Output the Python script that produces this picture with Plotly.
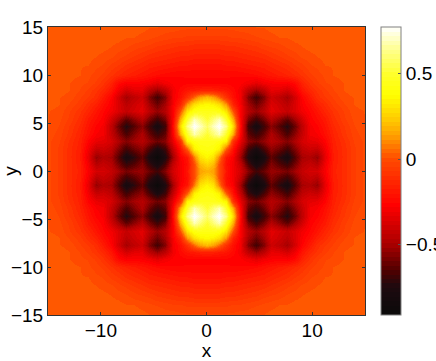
import numpy as np
import plotly.graph_objects as go

# grid coordinates of the upper right quadrant, picture is mirrored in both axes
x_pos = [0, .6, 1.15, 1.8, 2.5, 3.2, 3.95, 4.7, 5.45, 6.15, 6.9, 7.6, 8.35, 9.05, 9.8, 10.5, 11.25, 12, 13, 14, 15]
y_pos = [0, .75, 1.5, 2.3, 3.1, 3.9, 4.7, 5.45, 6.2, 6.95, 7.7, 8.45, 9.2, 10, 11, 12, 13, 14, 15]

# one row per y_pos, one value per x_pos
z_quadrant = [
    [.18, .14, 0, -.2, -.3, -.38, -.56, -.68, -.6, -.52, -.54, -.58, -.5, -.42, -.38, -.38, -.28, -.16, -.11, -.05, -.01],
    [.26, .2, 0, -.22, -.3, -.42, -.66, -.8, -.7, -.56, -.64, -.7, -.58, -.46, -.42, -.46, -.3, -.17, -.11, -.05, -.01],
    [.36, .3, .08, -.2, -.28, -.5, -.76, -.9, -.78, -.62, -.72, -.8, -.64, -.5, -.48, -.53, -.33, -.18, -.11, -.05, -.01],
    [.42, .4, .33, .02, -.22, -.42, -.68, -.78, -.66, -.54, -.6, -.68, -.56, -.44, -.4, -.42, -.3, -.17, -.11, -.05, -.01],
    [.45, .45, .42, .34, -.1, -.32, -.55, -.6, -.53, -.46, -.5, -.56, -.48, -.38, -.34, -.33, -.26, -.16, -.1, -.04, -.01],
    [.5, .6, .68, .48, .16, -.26, -.62, -.7, -.6, -.48, -.56, -.66, -.54, -.42, -.3, -.28, -.22, -.15, -.08, -.03, 0],
    [.58, .7, .77, .62, .27, -.22, -.68, -.8, -.68, -.55, -.64, -.74, -.6, -.44, -.29, -.26, -.2, -.13, -.07, -.02, .01],
    [.5, .6, .68, .48, .16, -.25, -.58, -.68, -.58, -.46, -.54, -.62, -.5, -.38, -.27, -.23, -.18, -.11, -.05, -.01, .01],
    [.43, .44, .42, .3, 0, -.27, -.46, -.53, -.45, -.34, -.38, -.42, -.36, -.3, -.25, -.2, -.14, -.09, -.04, 0, .01],
    [.36, .34, .28, .12, -.15, -.28, -.5, -.6, -.5, -.36, -.4, -.45, -.36, -.28, -.22, -.16, -.11, -.06, -.02, .01, .02],
    [.2, .15, .05, -.1, -.22, -.3, -.56, -.68, -.56, -.4, -.44, -.5, -.38, -.26, -.18, -.11, -.07, -.04, 0, .01, .02],
    [-.15, -.16, -.18, -.2, -.24, -.3, -.44, -.52, -.44, -.33, -.34, -.38, -.3, -.2, -.13, -.09, -.05, -.02, .01, .02, .02],
    [-.26, -.26, -.26, -.26, -.27, -.27, -.3, -.34, -.3, -.28, -.27, -.28, -.24, -.15, -.09, -.05, -.02, -.01, .01, .02, .02],
    [-.25, -.25, -.25, -.25, -.25, -.25, -.24, -.23, -.21, -.19, -.17, -.15, -.12, -.09, -.05, -.03, -.01, .01, .02, .02, .02],
    [-.21, -.21, -.21, -.2, -.2, -.19, -.18, -.17, -.16, -.14, -.12, -.1, -.07, -.05, -.02, -.01, .01, .01, .02, .02, .02],
    [-.16, -.16, -.16, -.15, -.15, -.14, -.13, -.12, -.11, -.09, -.07, -.05, -.03, -.01, 0, .01, .02, .02, .02, .02, .02],
    [-.11, -.11, -.11, -.1, -.1, -.09, -.08, -.07, -.05, -.04, -.03, -.01, 0, .01, .02, .02, .02, .02, .02, .02, .02],
    [-.05, -.05, -.05, -.05, -.04, -.04, -.03, -.02, -.01, 0, .01, .01, .02, .02, .02, .02, .02, .02, .02, .02, .02],
    [-.01, -.01, -.01, -.01, -.01, 0, 0, .01, .01, .02, .02, .02, .02, .02, .02, .02, .02, .02, .02, .02, .02],
]

z_min = -0.91
z_max = 0.77
x_ticks = [-10, 0, 10]
y_ticks = [-15, -10, -5, 0, 5, 10, 15]
cbar_ticks = [-0.5, 0, 0.5]

# colours
cmap_t = [0, .097, .156, .247, .382, .542, .625, .684, .764, .833, .92, 1]
cmap_r = [10, 30, 80, 170, 255, 255, 255, 255, 255, 255, 255, 255]
cmap_g = [10, 10, 0, 0, 0, 75, 160, 205, 255, 255, 255, 255]
cmap_b = [10, 15, 0, 0, 0, 0, 0, 0, 0, 40, 140, 255]


def stepped_scale(n=64):
    # matlab style colormap with n flat levels
    scale = []
    for i in range(n):
        t = (i + 0.5) / n
        r = np.interp(t, cmap_t, cmap_r)
        g = np.interp(t, cmap_t, cmap_g)
        b = np.interp(t, cmap_t, cmap_b)
        c = f"rgb({r:.0f},{g:.0f},{b:.0f})"
        scale.append([i / n, c])
        scale.append([(i + 1) / n, c])
    return scale


q = np.array(z_quadrant)
right = np.hstack([q[:, :0:-1], q])
z = np.vstack([right[:0:-1], right])
x = [-v for v in x_pos[:0:-1]] + x_pos
y = [-v for v in y_pos[:0:-1]] + y_pos

font = dict(family="Liberation Sans, Arial, sans-serif", size=19, color="black")

fig = go.Figure(go.Heatmap(
    x=x, y=y, z=z,
    zmin=z_min, zmax=z_max,
    zsmooth="best",
    colorscale=stepped_scale(),
    hoverinfo="skip",
    colorbar=dict(
        x=1.0505, xanchor="left", xpad=0,
        y=0.5, yanchor="middle", ypad=0,
        len=1, lenmode="fraction",
        thickness=20, thicknessmode="pixels",
        tickvals=cbar_ticks, ticktext=["\u22120.5", "0", "0.5"],
        ticks="inside", ticklen=3, tickcolor="#555555",
        outlinecolor="#808080", outlinewidth=1,
        tickfont=font,
    ),
))

axis = dict(
    showgrid=False, zeroline=False, showline=True, mirror="ticks",
    linecolor="#333333", linewidth=1,
    ticks="inside", ticklen=3, tickcolor="#333333",
    tickfont=font, range=[-15, 15], tickmode="array",
)
fig.update_xaxes(axis, tickvals=x_ticks, ticklabelstandoff=-2, title=dict(text="x", font=font, standoff=1))
fig.update_yaxes(axis, tickvals=y_ticks, title=dict(text="y", font=font, standoff=4))
fig.update_layout(
    width=436, height=361,
    margin=dict(l=48, r=71, t=27, b=46, autoexpand=False),
    paper_bgcolor="white", plot_bgcolor="white",
    font=font,
)

# drop the page's default body margin so the figure fills the window
fig.write_html(
    "out.html",
    config={"displayModeBar": False},
    post_script="document.body.style.margin = '0';",
)
